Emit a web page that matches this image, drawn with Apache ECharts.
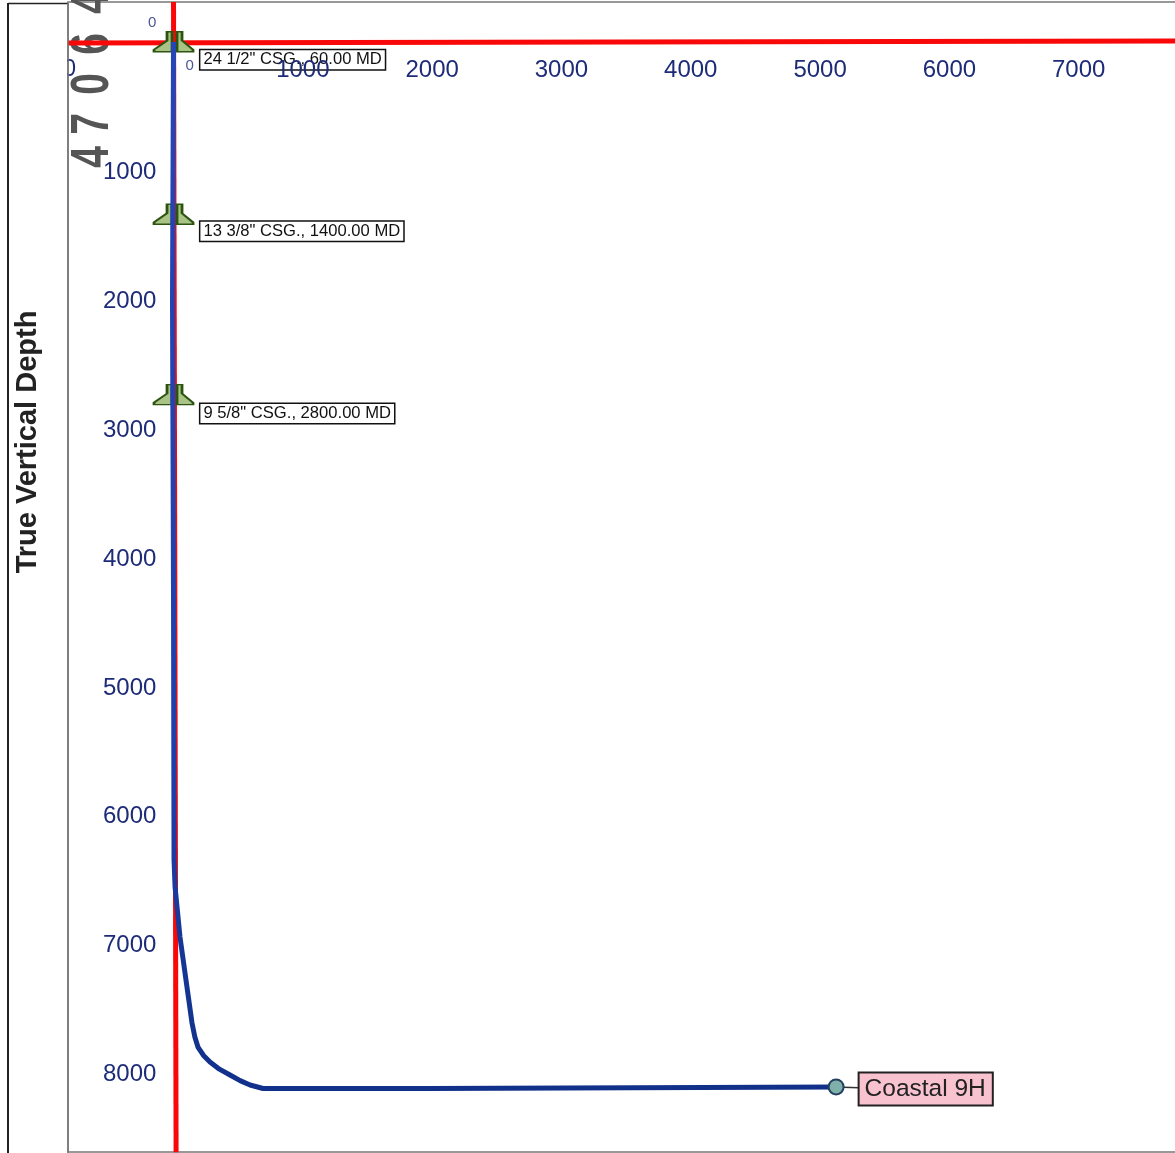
<!DOCTYPE html>
<html><head><meta charset="utf-8">
<style>html,body{margin:0;padding:0;background:#fff}#c{width:1175px;height:1153px}</style>
<script src="https://cdn.jsdelivr.net/npm/echarts@6/dist/echarts.min.js"></script>
</head><body><div id="c"></div>
<script>
const xTicks=[1000,2000,3000,4000,5000,6000,7000];
const yTicks=[1000,2000,3000,4000,5000,6000,7000,8000];
const wellX=[0,-8,0,4,12,50,104,143,165,189,232,282,355,437,515,592,692,1984,5124];
const wellY=[0,2003,4333,6351,6560,6949,7337,7616,7725,7803,7868,7919,7975,8020,8064,8098,8125,8125,8113];
const casingDepths=[60,1400,2800];
const casingLabels=['24 1/2" CSG., 60.00 MD','13 3/8" CSG., 1400.00 MD','9 5/8" CSG., 2800.00 MD'];
const casingLabelShift=[18,17,19];
const redVerticalX=[0,20], redVerticalY=[-310,8620];
const redHorizontalX=[-816,7822], redHorizontalY=[8,-8];
const wellName='Coastal 9H';
const navy='#1d2b78';
const font='"Liberation Sans",Arial,sans-serif';
const casingPath='path://M13 0 L18 0 L18 20 L0 20 L0 18 L13 9 Z M23 0 L28 0 L28 9 L39 18 L39 20 L23 20 Z';
const digit=(t,x,y)=>({type:'text',x,y,rotation:Math.PI/2,scaleX:.72,z:1,
  style:{text:t,font:'bold 54px '+font,fill:'#555',textAlign:'center',textVerticalAlign:'middle'}});
const chart=echarts.init(document.getElementById('c'),null,{renderer:'canvas'});
const plain=v=>String(v);
chart.setOption({
  animation:false,backgroundColor:'#fff',
  grid:{left:68,right:-10,top:2,bottom:1,show:true,borderColor:'#777',borderWidth:1.5,z:0,outerBoundsMode:'none',containLabel:false},
  xAxis:{type:'value',position:'top',min:-816,max:7822,z:20,
    splitLine:{show:false},axisLine:{show:false},axisTick:{show:false},
    axisLabel:{inside:true,margin:56,customValues:xTicks,formatter:plain,color:navy,fontFamily:font,fontSize:24}},
  yAxis:{type:'value',inverse:true,min:-310,max:8618,z:20,
    name:'True Vertical Depth',nameLocation:'middle',nameGap:26,
    nameTextStyle:{color:'#222',fontFamily:font,fontSize:29,fontWeight:'bold',padding:[0,0,0,270]},
    splitLine:{show:false},axisLine:{show:false},axisTick:{show:false},
    axisLabel:{inside:true,margin:35,customValues:yTicks,formatter:v=>'{a|'+v+'}',color:navy,fontFamily:font,fontSize:24,
      rich:{a:{color:navy,fontFamily:font,fontSize:24,padding:[4,0,0,0]}}}},
  graphic:[
    digit('4',93,157),digit('7',93,124),digit('0',93,84),digit('6',93,44),digit('4',93,3),
    {type:'text',x:76,y:70,z:2,style:{text:'0',font:'23px '+font,fill:navy,textAlign:'right',textVerticalAlign:'middle'}},
    {type:'rect',z:3,shape:{x:9,y:4,width:58,height:1150},style:{fill:'#fff'}},
    {type:'line',z:4,shape:{x1:8,y1:3,x2:8,y2:1153},style:{stroke:'#222',lineWidth:2}},
    {type:'line',z:4,shape:{x1:8,y1:3.5,x2:68,y2:3.5},style:{stroke:'#222',lineWidth:1.5}},
    {type:'line',z:4,shape:{x1:68,y1:3,x2:68,y2:1153},style:{stroke:'#777',lineWidth:1.5}}
  ],
  series:[
    {type:'line',name:'Vertical reference',symbol:'none',z:3,silent:true,
      data:redVerticalX.map((v,i)=>[v,redVerticalY[i]]),lineStyle:{color:'#f80808',width:5}},
    {type:'line',name:'Horizontal reference',symbol:'none',z:3,silent:true,
      data:redHorizontalX.map((v,i)=>[v,redHorizontalY[i]]),lineStyle:{color:'#f80808',width:5}},
    {type:'scatter',name:'Casing',z:4,symbol:casingPath,symbolSize:[39,20],symbolOffset:[0,-8],silent:true,
      itemStyle:{color:'#a9c285',borderColor:'#2c5410',borderWidth:2,opacity:1},
      data:casingDepths.map((d,i)=>({value:[0,d],label:{formatter:casingLabels[i],offset:[0,casingLabelShift[i]]}})),
      label:{show:true,position:'right',distance:6,color:'#111',fontFamily:font,fontSize:16.6,lineHeight:16,
        backgroundColor:'#fff',borderColor:'#111',borderWidth:1.5,padding:[2,3,1,3]}},
    {type:'line',name:wellName,symbol:'none',z:5,silent:true,
      data:wellX.map((v,i)=>[v,wellY[i]]),
      lineStyle:{width:5,color:new echarts.graphic.LinearGradient(0,0,0,1,[{offset:0,color:'#2445b8'},{offset:.7,color:'#1f3fa8'},{offset:1,color:'#10308a'}])}},
    {type:'line',name:'Leader',symbol:'none',z:4,silent:true,
      data:[[5124,8113],[5300,8120]],lineStyle:{color:'#333',width:1.5}},
    {type:'scatter',name:'End',z:6,symbol:'circle',symbolSize:15,silent:true,
      itemStyle:{color:'#7fb0aa',borderColor:'#24405e',borderWidth:2,opacity:1},
      data:[[5124,8113]],
      label:{show:true,position:'right',distance:15,formatter:wellName,color:'#222',fontFamily:font,fontSize:24.5,
        backgroundColor:'#f8c3cf',borderColor:'#222',borderWidth:2,padding:[3,6,3,5],offset:[0,2]}},
    {type:'scatter',name:'Origin labels',z:6,symbolSize:0,silent:true,
      data:[{value:[125,186],label:{fontSize:15}},{value:[-166,-148],label:{fontSize:15}}],
      label:{show:true,position:'inside',formatter:'0',color:navy,fontFamily:font}}
  ]
});
</script></body></html>
